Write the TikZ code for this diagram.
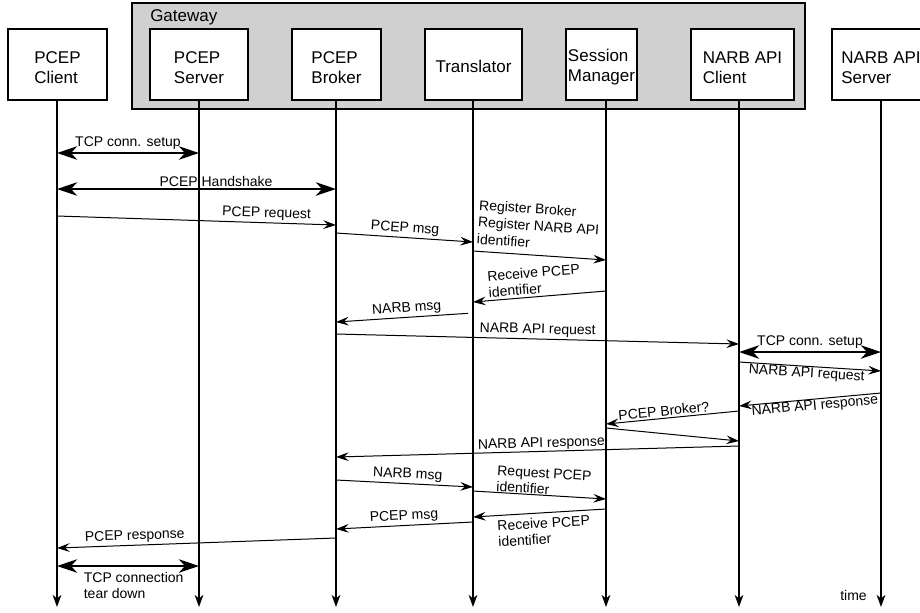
\documentclass[tikz,border=0pt]{standalone}
\usepackage{fontspec}
\setmainfont{Liberation Sans}
\usetikzlibrary{arrows.meta}
\definecolor{gwgray}{RGB}{208,208,208}
\begin{document}
\begin{tikzpicture}[x=0.75pt,y=-0.75pt,
  box/.style={draw, line width=1.1pt, fill=white, minimum height=53.25pt, inner sep=0pt},
  boxtxt/.style={align=left, inner sep=0pt, font=\fontsize{12.75}{15}\selectfont},
  life/.style={line width=1.3pt, -{Stealth[length=9pt,width=6.5pt,inset=2.5pt]}},
  msg/.style={line width=0.75pt, -{Stealth[length=9.5pt,width=6.5pt,inset=3.5pt]}},
  big/.style={line width=2.2pt, {Stealth[length=15pt,width=10pt,inset=4.5pt]}-{Stealth[length=15pt,width=10pt,inset=4.5pt]}},
  lbl/.style={font=\fontsize{10.5}{12}\selectfont, inner sep=1.5pt, sloped},
]
\useasboundingbox (0,0) rectangle (920,612);
% gateway
\draw[line width=1.1pt, fill=gwgray] (132,3) rectangle (805,109);
\node[anchor=base west, font=\fontsize{12.75}{15}\selectfont, inner sep=0pt] (gwl) at (150,21) {Gateway};
% boxes
\node[box, minimum width=74.25pt] (Cl) at (57.5,64.5) {};
\node[box, minimum width=73.5pt] (Sv) at (199,64.5) {};
\node[box, minimum width=66.75pt] (Br) at (336.5,64.5) {};
\node[box, minimum width=72.75pt] (Tr) at (473.5,64.5) {};
\node[box, minimum width=53.25pt] (SM) at (601.5,64.5) {};
\node[box, minimum width=77.25pt] (NC) at (742.5,64.5) {};
\node[box, minimum width=73.5pt] (NS) at (881,64.5) {};
\node[boxtxt] (Clt) at ([yshift=-2.25pt]Cl.center) {PCEP\\Client};
\node[boxtxt] (Svt) at ([yshift=-2.25pt]Sv.center) {PCEP\\Server};
\node[boxtxt] (Brt) at ([yshift=-2.25pt]Br.center) {PCEP\\Broker};
\node[boxtxt] (Trt) at ([yshift=-1.5pt]Tr.center) {Translator};
\node[boxtxt] (SMt) at ([yshift=-2.25pt]SM.center) {Session\\Manager};
\node[boxtxt] (NCt) at ([yshift=-2.25pt]NC.center) {NARB API\\Client};
\node[boxtxt] (NSt) at ([yshift=-2.25pt]NS.center) {NARB API\\Server};
% lifelines
\coordinate (lCl) at (57,100);
\coordinate (lSv) at (199,100);
\coordinate (lBr) at (336,100);
\coordinate (lTr) at (473,100);
\coordinate (lSM) at (606,100);
\coordinate (lNC) at (739,100);
\coordinate (lNS) at (881,100);
\foreach \l in {lCl,lSv,lBr,lTr,lSM,lNC,lNS}{
  \draw[life] (\l) -- (\l |- 0,607);
}
% messages
\draw[big] (lCl |- 0,153) -- node[lbl, above, pos=0.5] (m1) {TCP conn. setup} (lSv |- 0,153);
\draw[big] (lCl |- 0,189) -- node[lbl, above, pos=0.57, inner sep=0.5pt] (m2) {PCEP Handshake} (lBr |- 0,189);
\draw[msg] (lCl |- 0,216) -- node[lbl, above, pos=0.75] (m3) {PCEP request} (lBr |- 0,225);
\draw[msg] (lBr |- 0,233) -- node[lbl, above, pos=0.5] (m4) {PCEP msg} (lTr |- 0,242);
\draw[msg] (lTr |- 0,251) -- node[lbl, align=left, anchor=south west, pos=0, inner sep=2pt, yshift=3pt, font=\fontsize{10.5}{12.75}\selectfont] (m5) {Register Broker\\Register NARB API\\identifier} (lSM |- 0,260);
\draw[msg] (lSM |- 0,291) -- node[lbl, align=left, anchor=south west, pos=0.9, inner sep=2pt] (m6) {Receive PCEP\\identifier} (lTr |- 0,302);
\draw[msg, shorten <=3.75pt] (lTr |- 0,313) -- node[lbl, above, pos=0.48] (m7) {NARB msg} (lBr |- 0,322);
\draw[msg] (lBr |- 0,334) -- node[lbl, above, pos=0.5] (m8) {NARB API request} (lNC |- 0,344);
\draw[big] (lNC |- 0,352) -- node[lbl, above, pos=0.5] (m9) {TCP conn. setup} (lNS |- 0,352);
\draw[msg] (lNC |- 0,362) -- node[lbl, below, pos=0.48, inner sep=0.5pt] (m10) {NARB API request} (lNS |- 0,371);
\draw[msg] (lNS |- 0,393) -- node[lbl, below, pos=0.47, inner sep=0.5pt] (m11) {NARB API response} (lNC |- 0,406);
\draw[msg] (lNC |- 0,411) -- node[lbl, above, pos=0.56] (m12) {PCEP Broker?} (lSM |- 0,424);
\draw[msg] (lSM |- 0,428) -- (lNC |- 0,441);
\draw[msg] (lNC |- 0,446) -- node[lbl, above, pos=0.49, inner sep=0.5pt] (m14) {NARB API response} (lBr |- 0,457);
\draw[msg] (lBr |- 0,480) -- node[lbl, above, pos=0.52] (m15) {NARB msg} (lTr |- 0,487);
\draw[msg] (lTr |- 0,491) -- node[lbl, align=left, anchor=south west, pos=0.165, inner sep=0.5pt] (m16) {Request PCEP\\identifier} (lSM |- 0,499);
\draw[msg] (lSM |- 0,509) -- node[lbl, align=left, anchor=north west, pos=0.83, inner sep=0.5pt, yshift=-3pt] (m17) {Receive PCEP\\identifier} (lTr |- 0,517);
\draw[msg] (lTr |- 0,522) -- node[lbl, above, pos=0.5] (m18) {PCEP msg} (lBr |- 0,529);
\draw[msg] (lBr |- 0,538) -- node[lbl, above, pos=0.72] (m19) {PCEP response} (lCl |- 0,548);
\draw[big] (lCl |- 0,566) -- node[lbl, align=left, anchor=north west, pos=0.16, inner sep=2pt, yshift=-1.5pt, font=\fontsize{10.5}{12.5}\selectfont] (m20) {TCP connection\\tear down} (lSv |- 0,566);
\node[font=\fontsize{10.5}{12}\selectfont, anchor=east, inner sep=0pt] (time) at (867,595) {time};
\end{tikzpicture}
\end{document}
